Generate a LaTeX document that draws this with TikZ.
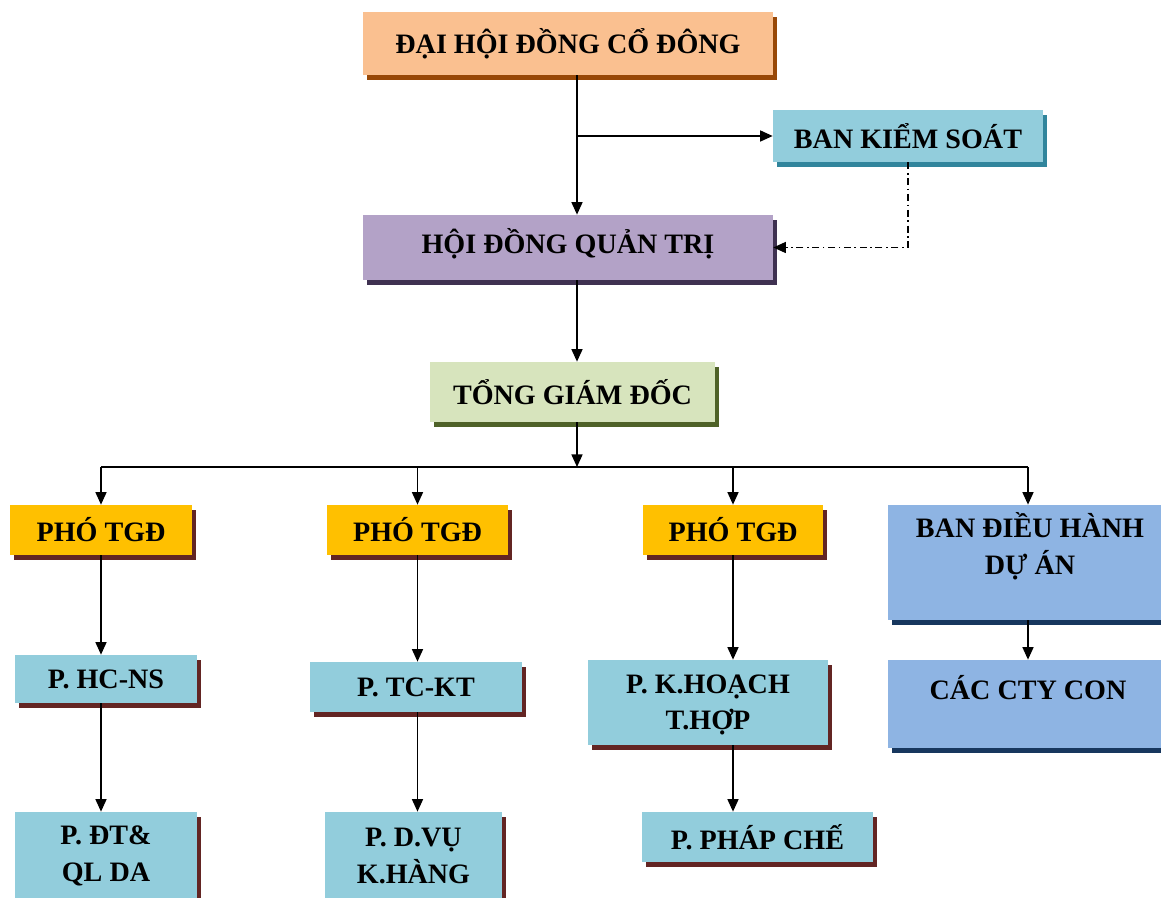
\documentclass[tikz,border=0pt]{standalone}
\usepackage{fontspec}
\setmainfont{Liberation Serif}
\usepackage{tikz}
\usetikzlibrary{arrows.meta,shadows}

\definecolor{peach}{HTML}{FAC090}
\definecolor{peachD}{HTML}{984807}
\definecolor{teal}{HTML}{92CDDC}
\definecolor{tealD}{HTML}{31859C}
\definecolor{lilac}{HTML}{B3A2C7}
\definecolor{lilacD}{HTML}{3F3151}
\definecolor{olive}{HTML}{D7E4BD}
\definecolor{oliveD}{HTML}{4F6228}
\definecolor{gold}{HTML}{FFC000}
\definecolor{maroon}{HTML}{632523}
\definecolor{sky}{HTML}{8EB4E3}
\definecolor{skyD}{HTML}{17375E}

\begin{document}
\begin{tikzpicture}[x=0.02cm,y=-0.02cm,
    box/.style 2 args={fill=#1, inner sep=0pt, align=center,
        font=\fontsize{16}{21}\selectfont\bfseries,
        drop shadow={shadow xshift=0.08cm,shadow yshift=-0.1cm,fill=#2,opacity=1}},
    lbl/.style={inner sep=0pt, align=center, font=\fontsize{16}{21}\selectfont\bfseries},
    link/.style={line width=0.8pt, -{Triangle[length=0.25cm,width=0.22cm]}},
    ctrl/.style={line width=0.6pt, dash pattern=on 4pt off 2pt on 1pt off 2pt,
        -{Triangle[length=0.25cm,width=0.22cm]}}]
    \useasboundingbox (0,0) rectangle (1161,898);
    \fill[white] (0,0) rectangle (1161,898);
    % cap tren
    \node[box={peach}{peachD}, minimum width=8.2cm, minimum height=1.26cm] (dhdcd) at (568,43.5) {ĐẠI HỘI ĐỒNG CỔ ĐÔNG};
    \node[box={teal}{tealD}, minimum width=5.4cm, minimum height=1.04cm] (bks) at (908,136) {BAN KIỂM SOÁT};
    \node[box={lilac}{lilacD}, minimum width=8.2cm, minimum height=1.3cm] (hdqt) at (568,247.5) {};
    \node[lbl] (hdqttext) at (568,244) {HỘI ĐỒNG QUẢN TRỊ};
    \node[box={olive}{oliveD}, minimum width=5.7cm, minimum height=1.2cm] (tgd) at (572.5,392) {TỔNG GIÁM ĐỐC};
    % pho tong giam doc
    \node[box={gold}{maroon}, minimum width=3.64cm, minimum height=1cm] (pho1) at (101,530) {PHÓ TGĐ};
    \node[box={gold}{maroon}, minimum width=3.62cm, minimum height=1cm] (pho2) at (417.5,530) {PHÓ TGĐ};
    \node[box={gold}{maroon}, minimum width=3.6cm, minimum height=1cm] (pho3) at (733,530) {PHÓ TGĐ};
    \node[box={sky}{skyD}, minimum width=5.6cm, minimum height=2.3cm] (bdh) at (1028,562.5) {};
    \node[lbl] (bdhtext) at (1030,546) {BAN ĐIỀU HÀNH\\DỰ ÁN};
    % cac phong
    \node[box={teal}{maroon}, minimum width=3.64cm, minimum height=0.96cm] (hcns) at (106,679) {P. HC-NS};
    \node[box={teal}{maroon}, minimum width=4.24cm, minimum height=1cm] (tckt) at (416,687) {P. TC-KT};
    \node[box={teal}{maroon}, minimum width=4.8cm, minimum height=1.7cm] (khoach) at (708,702.5) {};
    \node[lbl] (khoachtext) at (708,705) {P. K.HOẠCH\\T.HỢP};
    \node[box={sky}{skyD}, minimum width=5.6cm, minimum height=1.76cm] (ctycon) at (1028,704) {};
    \node[lbl] (ctycontext) at (1028,688) {CÁC CTY CON};
    \node[box={teal}{maroon}, minimum width=3.64cm, minimum height=2cm] (dtql) at (106,862) {};
    \node[lbl] (dtqltext) at (106,856) {P. ĐT\&\\QL DA};
    \node[box={teal}{maroon}, minimum width=3.54cm, minimum height=2cm] (dvu) at (413.5,862) {};
    \node[lbl] (dvutext) at (413.5,856) {P. D.VỤ\\K.HÀNG};
    \node[box={teal}{maroon}, minimum width=4.62cm, minimum height=1cm] (phapche) at (757.5,837) {P. PHÁP CHẾ};

    \coordinate (spine) at (577,0);
    \coordinate (bus) at (0,467);
    \draw[link] (dhdcd.south -| spine) -- (hdqt.north -| spine);
    \draw[link] (spine |- bks.west) -- (bks.west);
    \draw[ctrl] (bks.south) |- (hdqt.east);
    \draw[link] (hdqt.south -| spine) -- (tgd.north -| spine);
    \draw[link] (tgd.south -| spine) -- (spine |- bus);
    \draw[line width=0.8pt] (pho1.north |- bus) -- (bdh.north |- bus);
    \foreach \n in {pho1,pho2,pho3,bdh}
        \draw[link] (\n.north |- bus) -- (\n.north);
    % cot doc
    \draw[link] (pho1.south) -- (pho1.south |- hcns.north);
    \draw[link] (pho1.south |- hcns.south) -- (pho1.south |- dtql.north);
    \draw[link] (pho2.south) -- (pho2.south |- tckt.north);
    \draw[link] (pho2.south |- tckt.south) -- (pho2.south |- dvu.north);
    \draw[link] (pho3.south) -- (pho3.south |- khoach.north);
    \draw[link] (pho3.south |- khoach.south) -- (pho3.south |- phapche.north);
    \draw[link] (bdh.south) -- (bdh.south |- ctycon.north);
\end{tikzpicture}
\end{document}
